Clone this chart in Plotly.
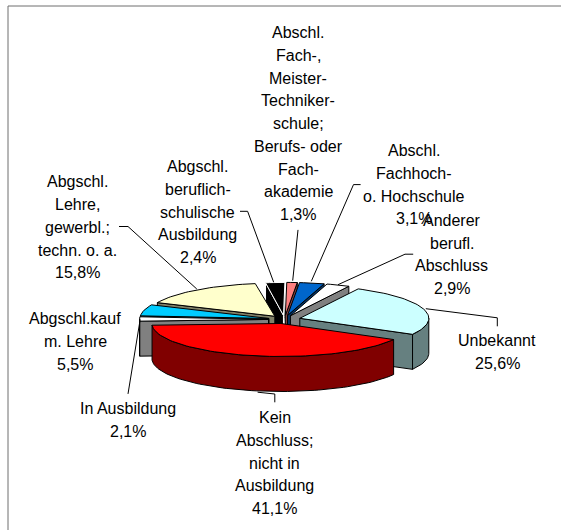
import math
import plotly.graph_objects as go

# --- data ---
categories = [
    "Abgschl.\nberuflich-\nschulische\nAusbildung",
    "Abschl.\nFach-,\nMeister-\nTechniker-\nschule;\nBerufs- oder\nFach-\nakademie",
    "Abschl.\nFachhoch-\no. Hochschule",
    "Anderer\nberufl.\nAbschluss",
    "Unbekannt",
    "Kein\nAbschluss;\nnicht in\nAusbildung",
    "In Ausbildung",
    "Abgschl.kauf\nm. Lehre",
    "Abgschl.\nLehre,\ngewerbl.;\ntechn. o. a.",
]
values = [2.4, 1.3, 3.1, 2.9, 25.6, 41.1, 2.1, 5.5, 15.8]
value_labels = ["2,4%", "1,3%", "3,1%", "2,9%", "25,6%", "41,1%", "2,1%", "5,5%", "15,8%"]

# --- style ---
top_colors = ["#000000", "#FF8080", "#0066CC", "#FFFFFF", "#CCFFFF", "#FF0000", "#FFFFFF", "#00CCFF", "#FFFFCC"]
side_colors = ["#000000", "#804040", "#003366", "#808080", "#668080", "#800000", "#808080", "#006680", "#808066"]
edge_colors = ["#FFFFFF"] + ["#000000"] * 8
draw_order = [0, 1, 2, 3, 8, 7, 6, 4, 5]

# --- pie geometry ---
CX, CY = 284.5, 319.5
RX, RY = 129.0, 33.0
DEPTH = 35.0
EXPLODE = 16.0
START = -8.0

# --- label layout (centre x, first line y), leader paths ---
label_pos = [(197.5, 166.7), (298, 32.8), (413.6, 150.8), (451.5, 220.4),
             (497, 340.8), (274.8, 417.8), (128, 408.7), (75, 318.8), (77, 181.9)]
LINE_STEP = 22.7
leaders = [
    [(240, 211.3), (247.6, 211.3), (273.7, 282.3)],
    [(298, 229.9), (292.7, 280.7)],
    [(360.6, 184.6), (353.5, 184.6), (311.3, 281.3)],
    [(413.2, 254.2), (405, 254.2), (338, 284.7)],
    [(425.8, 308.7), (497.3, 317.8), (497.3, 326.3)],
    [(257.6, 392.2), (274.8, 394), (274.8, 402.3)],
    [(140.2, 319.4), (128, 393.9)],
    [(119, 226.5), (128, 226.5), (196.8, 289)],
]

fig = go.Figure()


def poly(pts, fill, line):
    xs = [p[0] for p in pts] + [pts[0][0]]
    ys = [p[1] for p in pts] + [pts[0][1]]
    fig.add_trace(go.Scatter(x=xs, y=ys, mode="lines", fill="toself", fillcolor=fill,
                             line=dict(color=line, width=1), hoverinfo="skip", showlegend=False))


def arc(a1, a2, ox, oy, z=0.0):
    n = max(2, int(abs(a2 - a1) / 2) + 1)
    out = []
    for k in range(n + 1):
        t = math.radians(a1 + (a2 - a1) * k / n)
        out.append((ox + RX * math.sin(t), oy - RY * math.cos(t) + z))
    return out


total = 100.0
spans = []
acc = START
for v in values:
    spans.append((acc, acc + v / total * 360))
    acc += v / total * 360

for i in draw_order:
    a1, a2 = spans[i]
    mid = math.radians((a1 + a2) / 2)
    ox = CX + EXPLODE * math.sin(mid)
    oy = CY - EXPLODE * RY / RX * math.cos(mid)
    side, edge = side_colors[i], edge_colors[i]
    top = arc(a1, a2, ox, oy)
    # radial walls facing the viewer
    if math.sin(math.radians(a1)) < 0:
        poly([(ox, oy), top[0], (top[0][0], top[0][1] + DEPTH), (ox, oy + DEPTH)], side, edge)
    if math.sin(math.radians(a2)) > 0:
        poly([(ox, oy), top[-1], (top[-1][0], top[-1][1] + DEPTH), (ox, oy + DEPTH)], side, edge)
    # outer rim (front half only)
    lo, hi = max(a1, 90), min(a2, 270)
    if hi > lo:
        rim = arc(lo, hi, ox, oy)
        poly(rim + [(x, y + DEPTH) for x, y in reversed(rim)], side, "#000000")
    poly([(ox, oy)] + top, top_colors[i], edge)

# leader lines
for path in leaders:
    fig.add_trace(go.Scatter(x=[p[0] for p in path], y=[p[1] for p in path], mode="lines",
                             line=dict(color="#000000", width=1), hoverinfo="skip", showlegend=False))

# labels, one line at a time to keep the original line pitch
for cat, val, (lx, ly) in zip(categories, value_labels, label_pos):
    for j, line in enumerate(cat.split("\n") + [val]):
        fig.add_annotation(x=lx, y=ly + j * LINE_STEP, text=line, showarrow=False,
                           xanchor="center", yanchor="middle",
                           font=dict(family="Liberation Sans, Arial, sans-serif", size=16, color="#000000"))

fig.update_layout(
    width=561, height=530, margin=dict(l=0, r=0, t=0, b=0),
    paper_bgcolor="#FFFFFF", plot_bgcolor="#FFFFFF", showlegend=False,
    xaxis=dict(range=[0, 561], visible=False, fixedrange=True),
    yaxis=dict(range=[530, 0], visible=False, fixedrange=True),
    shapes=[
        dict(type="line", xref="paper", yref="paper", x0=8 / 561, x1=8 / 561, y0=0, y1=1 - 6 / 530,
             line=dict(color="#6E6E6E", width=1)),
        dict(type="line", xref="paper", yref="paper", x0=8 / 561, x1=1, y0=1 - 6 / 530, y1=1 - 6 / 530,
             line=dict(color="#6E6E6E", width=1)),
    ],
)
fig.write_html("out.html", config={"displayModeBar": False},
               post_script="document.body.style.margin='0';document.body.style.overflow='hidden';")
